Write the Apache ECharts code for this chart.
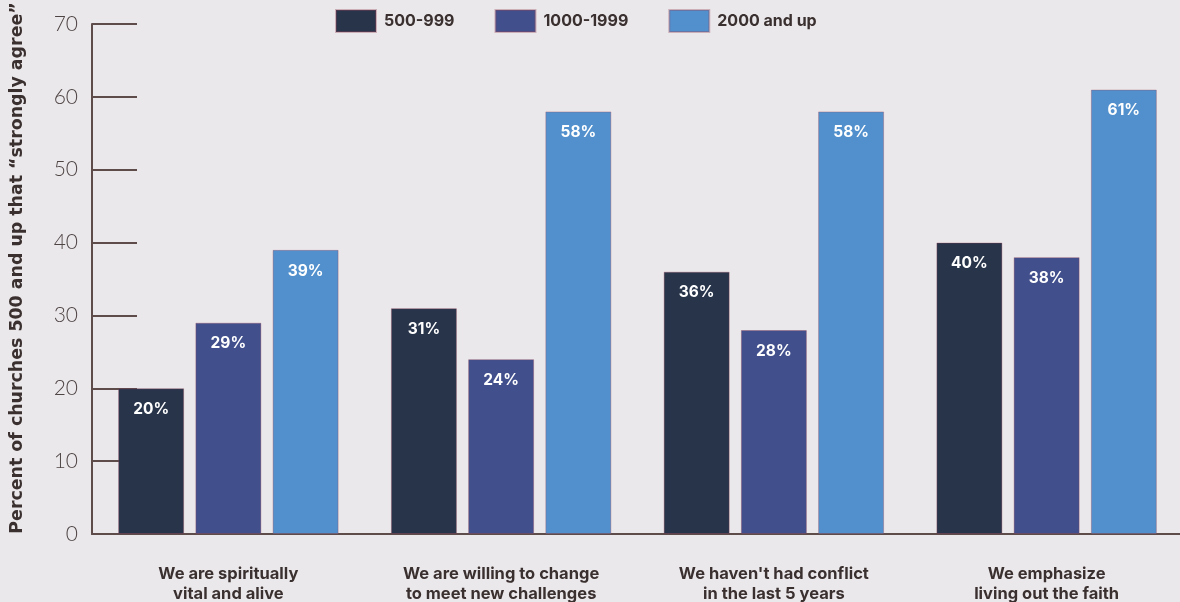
<!DOCTYPE html>
<html>
<head>
<meta charset="utf-8">
<script src="https://cdn.jsdelivr.net/npm/echarts@6/dist/echarts.min.js"></script>
<style>
  html, body { margin: 0; padding: 0; background: #ebe8eb; }
  #chart { width: 1180px; height: 602px; }
</style>
</head>
<body>
<div id="chart"></div>
<script>
// categories and values
const categories = [
  'We are spiritually\nvital and alive',
  'We are willing to change\nto meet new challenges',
  "We haven't had conflict\nin the last 5 years",
  'We emphasize\nliving out the faith'
]
const seriesNames = ['500-999', '1000-1999', '2000 and up']
const small = [20, 31, 36, 40]
const medium = [29, 24, 28, 38]
const large = [39, 58, 58, 61]
const yTicks = [0, 10, 20, 30, 40, 50, 60, 70]

const colors = ['#27344a', '#414f8c', '#5190cc']
const textColor = '#3a302f'
const axisColor = '#5e4c4a'

const chart = echarts.init(document.getElementById('chart'))

const makeSeries = (name, data, color) => ({
  name: name,
  type: 'bar',
  data: data,
  barWidth: 66,
  barGap: '17%',
  itemStyle: {
    color: color,
    borderColor: 'rgba(150, 70, 90, 0.35)',
    borderWidth: 1
  },
  label: {
    show: true,
    position: 'insideTop',
    distance: 13,
    formatter: '{c}%',
    color: '#ffffff',
    fontFamily: 'Inter',
    fontWeight: 'bold',
    fontSize: 15.5
  }
})

const option = {
  backgroundColor: '#ebe8eb',
  legend: {
    data: seriesNames,
    left: 335,
    top: 9,
    padding: 0,
    itemWidth: 40,
    itemHeight: 22,
    itemGap: 40,
    icon: 'rect',
    textStyle: {
      color: textColor,
      fontFamily: 'Inter',
      fontWeight: 'bold',
      fontSize: 16,
      padding: [0, 0, 0, 3]
    }
  },
  grid: {
    left: 92,
    top: 24,
    width: 1091,
    bottom: 68,
    containLabel: false,
    outerBoundsMode: 'none'
  },
  xAxis: {
    type: 'category',
    data: categories,
    axisLine: { lineStyle: { color: axisColor, width: 2 } },
    axisTick: {
      inside: true,
      length: 12,
      lineStyle: { color: axisColor, width: 1.5 }
    },
    axisLabel: {
      margin: 30,
      color: textColor,
      fontFamily: 'Inter',
      fontWeight: 'bold',
      fontSize: 16.5,
      lineHeight: 20
    }
  },
  yAxis: {
    type: 'value',
    min: yTicks[0],
    max: yTicks[yTicks.length - 1],
    interval: 10,
    name: 'Percent of churches 500 and up that \u201cstrongly agree\u201d',
    nameLocation: 'middle',
    nameGap: 66,
    nameTextStyle: {
      color: textColor,
      fontFamily: 'DejaVu Sans',
      fontWeight: 'bold',
      fontSize: 17.4,
      padding: [0, 0, 0, 22]
    },
    splitLine: { show: false },
    axisLine: { show: true, lineStyle: { color: axisColor, width: 2 } },
    axisTick: {
      show: true,
      inside: true,
      length: 45,
      lineStyle: { color: axisColor, width: 2 }
    },
    axisLabel: {
      margin: 14,
      color: '#4e4444',
      fontFamily: 'Lato',
      fontWeight: 300,
      fontSize: 21
    }
  },
  series: [
    makeSeries(seriesNames[0], small, colors[0]),
    makeSeries(seriesNames[1], medium, colors[1]),
    makeSeries(seriesNames[2], large, colors[2])
  ]
}

chart.setOption(option)
</script>
</body>
</html>
